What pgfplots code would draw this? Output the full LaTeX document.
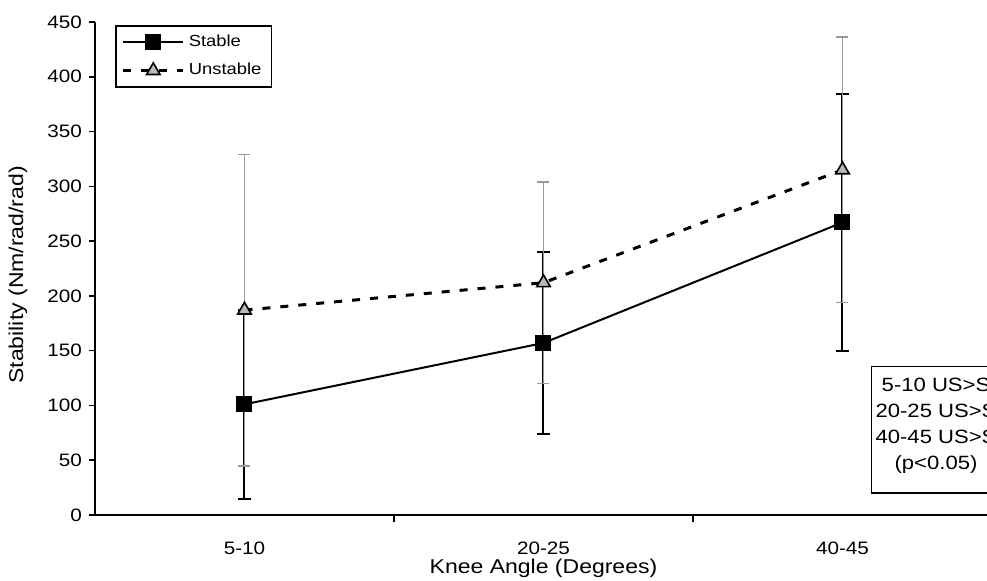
\documentclass[border=0pt]{standalone}
\usepackage{pgfplots}
\pgfplotsset{compat=1.18}
\usepackage{fontspec}
\setmainfont[FakeStretch=1.15]{Liberation Sans}
\pgfplotstableread{
x y err
0 101 86
1 157 83
2 267 117
}\stable
\pgfplotstableread{
x y err
0 187 142
1 212 92
2 315 121
}\unstable
\begin{document}
\begin{tikzpicture}
\path[use as bounding box] (-47.5pt,-33pt) rectangle (446pt,257.5pt);
\begin{axis}[
  at={(0,0)}, anchor=south west,
  scale only axis, width=448.5pt, height=246.5pt,
  xmin=-0.5, xmax=2.5, ymin=0, ymax=450,
  clip=false,
  axis x line=bottom, axis y line=left,
  axis line style={-, line width=0.8pt, black},
  every tick/.style={black, line width=0.8pt},
  tick align=outside,
  major tick length=3pt, minor tick length=3.5pt,
  xtick={0,1,2}, xticklabels={5-10,20-25,40-45},
  major x tick style={draw=none},
  minor xtick={0.5,1.5,2.5},
  ytick={0,50,...,450},
  /pgf/number format/assume math mode=true,
  tick label style={font=\fontsize{9}{10}\selectfont},
  xticklabel style={yshift=-7pt},
  xlabel={Knee Angle (Degrees)},
  ylabel={Stability (Nm/rad/rad)},
  label style={font=\fontsize{10}{12}\selectfont},
  x label style={at={(axis description cs:0.5,0)}, anchor=center, yshift=-26.5pt},
  y label style={at={(axis description cs:-0.0859,0.487)}, anchor=center},
  legend image code/.code={\draw[mark repeat=2,mark phase=2,#1] plot coordinates {(0pt,0pt) (15pt,0pt) (30pt,0pt)};},
  legend style={at={(rel axis cs:0.0223,0.994)}, anchor=north west, draw=black, line width=0.8pt,
    font=\fontsize{8}{9.6}\selectfont, inner xsep=3pt, inner ysep=2.5pt, row sep=3pt,
    cells={anchor=west}},
]
\addplot[black, line width=1pt, mark=square*, mark size=3.5pt, mark options={solid, fill=black},
  error bars/.cd, y dir=both, y explicit,
  error bar style={black, line width=1pt, solid},
  error mark options={rotate=90, black, line width=1pt, mark size=3.2pt, solid}]
  table[x=x, y=y, y error=err] {\stable};
\addlegendentry{Stable}
\addplot[black, line width=1.5pt, dash pattern=on 4pt off 5pt, mark=triangle*, mark size=3.9pt,
  mark options={solid, fill=gray!55, draw=black, line width=0.8pt},
  error bars/.cd, y dir=both, y explicit,
  error bar style={gray!80, line width=0.9pt, solid},
  error mark options={rotate=90, gray!80, line width=0.9pt, mark size=3pt, solid}]
  table[x=x, y=y, y error=err] {\unstable};
\addlegendentry{Unstable}
\node[draw=black, line width=0.6pt, fill=white, anchor=north west, align=center,
  inner xsep=2pt, inner ysep=5.6pt, font=\fontsize{9.6}{13}\selectfont]
  at (rel axis cs:0.8651,0.3022)
  {5-10 US>S\\20-25 US>S\\40-45 US>S\\(p<0.05)\rule[-6.3pt]{0pt}{6.3pt}};
\end{axis}
\end{tikzpicture}
\end{document}
